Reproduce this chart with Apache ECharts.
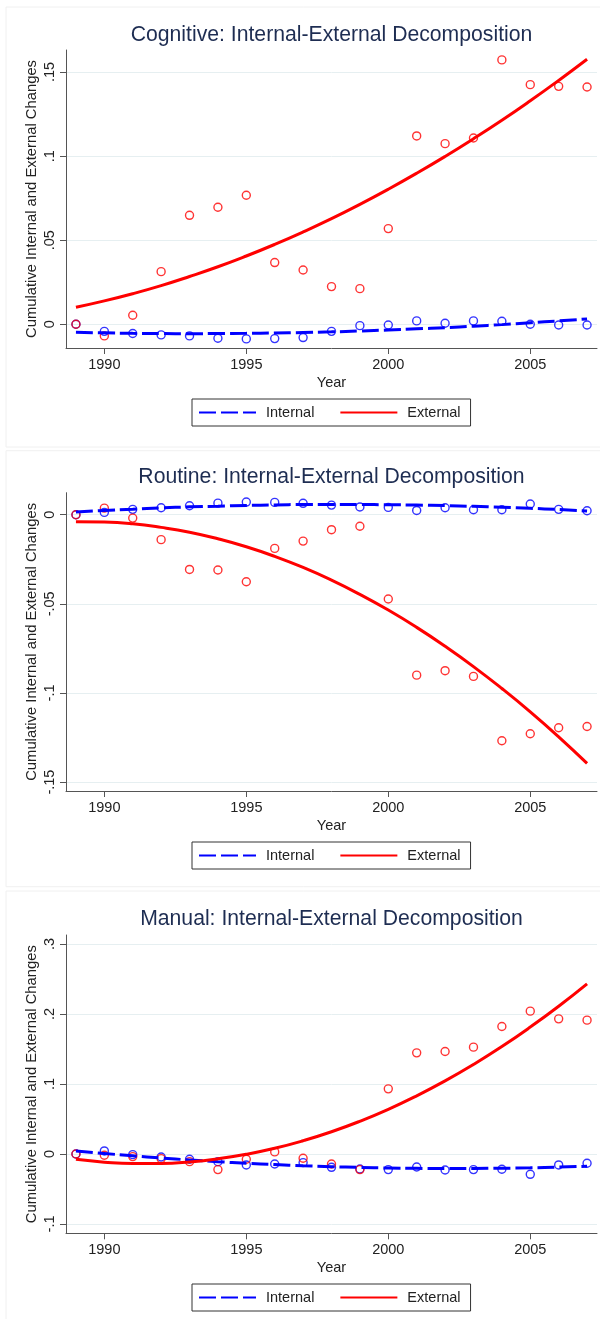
<!DOCTYPE html>
<html><head><meta charset="utf-8">
<script src="https://cdn.jsdelivr.net/npm/echarts@6/dist/echarts.min.js"></script>
<style>html,body{margin:0;padding:0;background:#fff}#c{width:600px;height:1319px}</style>
</head><body><div id="c"></div>
<script>
const years = [1989,1990,1991,1992,1993,1994,1995,1996,1997,1998,1999,2000,2001,2002,2003,2004,2005,2006,2007];
const xTicks = [1990,1995,2000,2005];

const titles = ['Cognitive: Internal-External Decomposition','Routine: Internal-External Decomposition','Manual: Internal-External Decomposition'];
const legendNames = ['Internal','External'];
const yTitle = 'Cumulative Internal and External Changes';
const xTitle = 'Year';

const cogInternal = [0,-0.0042,-0.0055,-0.0063,-0.0069,-0.0083,-0.0087,-0.0085,-0.0079,-0.0042,-0.0008,-0.0004,0.0020,0.0006,0.0020,0.0018,0.0000,-0.0004,-0.0004];
const cogExternal = [0,-0.0069,0.0054,0.0313,0.0648,0.0696,0.0767,0.0367,0.0323,0.0224,0.0212,0.0569,0.1120,0.1074,0.1108,0.1572,0.1425,0.1415,0.1411];
const cogInternalFit = [-0.0048,-0.0051,-0.0054,-0.0055,-0.0056,-0.0055,-0.0054,-0.0052,-0.0049,-0.0045,-0.0040,-0.0034,-0.0027,-0.0020,-0.0011,-0.0002,0.0009,0.0020,0.0032];
const cogExternalFit = [0.0101,0.0139,0.0182,0.0230,0.0284,0.0342,0.0406,0.0475,0.0549,0.0628,0.0713,0.0803,0.0898,0.0998,0.1103,0.1213,0.1329,0.1450,0.1576];
const cogTicks = [0,0.05,0.1,0.15];
const cogTickLabels = ['0','.05','.1','.15'];

const rouInternal = [0,0.0013,0.0030,0.0039,0.0050,0.0065,0.0071,0.0069,0.0064,0.0054,0.0043,0.0041,0.0024,0.0039,0.0028,0.0028,0.0060,0.0030,0.0022];
const rouExternal = [0,0.0037,-0.0019,-0.0140,-0.0307,-0.0310,-0.0376,-0.0189,-0.0148,-0.0084,-0.0065,-0.0473,-0.0900,-0.0875,-0.0907,-0.1268,-0.1229,-0.1195,-0.1188];
const rouInternalFit = [0.0015,0.0024,0.0031,0.0038,0.0044,0.0048,0.0052,0.0055,0.0057,0.0057,0.0057,0.0056,0.0054,0.0051,0.0047,0.0042,0.0036,0.0029,0.0021];
const rouExternalFit = [-0.0039,-0.0041,-0.0051,-0.0071,-0.0098,-0.0135,-0.0180,-0.0234,-0.0296,-0.0367,-0.0447,-0.0535,-0.0632,-0.0738,-0.0852,-0.0975,-0.1106,-0.1246,-0.1395];
const rouTicks = [-0.15,-0.1,-0.05,0];
const rouTickLabels = ['-.15','-.1','-.05','0'];

const manInternal = [0,0.0043,-0.0010,-0.0043,-0.0076,-0.0110,-0.0157,-0.0143,-0.0124,-0.0191,-0.0215,-0.0224,-0.0186,-0.0229,-0.0224,-0.0219,-0.0291,-0.0157,-0.0133];
const manExternal = [0,-0.0019,-0.0038,-0.0067,-0.0110,-0.0224,-0.0076,0.0029,-0.0062,-0.0143,-0.0224,0.0930,0.1445,0.1464,0.1526,0.1821,0.2041,0.1931,0.1912];
const manInternalFit = [0.0043,0.0007,-0.0027,-0.0058,-0.0086,-0.0111,-0.0133,-0.0152,-0.0169,-0.0182,-0.0193,-0.0201,-0.0206,-0.0208,-0.0207,-0.0204,-0.0198,-0.0188,-0.0176];
const manExternalFit = [-0.0076,-0.0117,-0.0137,-0.0136,-0.0114,-0.0070,-0.0005,0.0081,0.0189,0.0317,0.0467,0.0638,0.0831,0.1044,0.1279,0.1535,0.1813,0.2111,0.2431];
const manTicks = [-0.1,0,0.1,0.2,0.3];
const manTickLabels = ['-.1','0','.1','.2','.3'];

const FONT = "'Liberation Sans', Arial, sans-serif";
const BLUE = '#0000ff', RED = '#ff0000', AXIS = '#555555', TXT = '#222222';

const panels = [
  {top:50, height:298, ymin:-0.0141, ymax:0.1631, ticks:cogTicks, labels:cogTickLabels,
   intl:cogInternal, extl:cogExternal, intlFit:cogInternalFit, extlFit:cogExternalFit, titleTop:24.5, legendTop:399, frameTop:7, frameH:440},
  {top:492.7, height:298.3, ymin:-0.155, ymax:0.01235, ticks:rouTicks, labels:rouTickLabels,
   intl:rouInternal, extl:rouExternal, intlFit:rouInternalFit, extlFit:rouExternalFit, titleTop:466.5, legendTop:842, frameTop:450.7, frameH:436},
  {top:935, height:298.3, ymin:-0.1134, ymax:0.3129, ticks:manTicks, labels:manTickLabels,
   intl:manInternal, extl:manExternal, intlFit:manInternalFit, extlFit:manExternalFit, titleTop:908.5, legendTop:1284, frameTop:891, frameH:440}
];

const pairs = arr => years.map((y,k)=>[y, arr[k]]);

const option = {
  animation:false,
  backgroundColor:'#ffffff',
  title:[], grid:[], xAxis:[], yAxis:[], legend:[], series:[],
  graphic: panels.map(p => ({type:'rect', shape:{x:6, y:p.frameTop, width:600, height:p.frameH}, style:{fill:'none', stroke:'#f0f0f0', lineWidth:1}, silent:true, z:-1}))
};

panels.forEach((p,i) => {
  option.title.push({text:titles[i], left:331.5, textAlign:'center', top:p.titleTop, padding:0,
    textStyle:{fontSize:21.2, fontWeight:'normal', color:'#1e2d52', fontFamily:FONT}});
  option.grid.push({left:66, top:p.top, width:531, height:p.height, containLabel:false});
  option.xAxis.push({type:'value', gridIndex:i, min:1988.65, max:2007.35,
    axisLine:{onZero:false, lineStyle:{color:AXIS, width:1}},
    axisTick:{customValues:xTicks, length:6, lineStyle:{color:AXIS}},
    axisLabel:{customValues:xTicks, fontSize:14.5, color:TXT, margin:9, fontFamily:FONT, formatter: v => String(Math.round(v))},
    splitLine:{show:false},
    name:xTitle, nameLocation:'middle', nameGap:27.5, nameMoveOverlap:false,
    nameTextStyle:{fontSize:14.5, color:TXT, fontFamily:FONT}});
  const lab = p.labels, tk = p.ticks;
  option.yAxis.push({type:'value', gridIndex:i, min:p.ymin, max:p.ymax,
    axisLine:{show:true, onZero:false, lineStyle:{color:AXIS, width:1}},
    axisTick:{show:true, customValues:tk, length:6, lineStyle:{color:AXIS}},
    axisLabel:{customValues:tk, rotate:90, fontSize:14.5, color:TXT, margin:9, fontFamily:FONT,
      formatter: v => { const k = tk.findIndex(t => Math.abs(t - v) < 1e-9); return k >= 0 ? lab[k] : ''; }},
    splitLine:{show:true, lineStyle:{color:'#e6eff1', width:1}},
    name:yTitle, nameLocation:'middle', nameRotate:90, nameGap:27, nameMoveOverlap:false,
    nameTextStyle:{fontSize:14.8, color:TXT, fontFamily:FONT}});
  option.legend.push({left:192, top:p.legendTop, orient:'horizontal', padding:[6,10,6,6],
    itemWidth:57, itemHeight:14, itemGap:25, borderColor:'#333333', borderWidth:1,
    itemStyle:{opacity:0, borderWidth:0},
    textStyle:{fontSize:14.5, color:TXT, fontFamily:FONT, padding:[0,0,0,5]},
    data:legendNames.slice(), selectedMode:false});
  option.series.push(
    {name:'Internal points', type:'scatter', xAxisIndex:i, yAxisIndex:i, data:pairs(p.intl), symbol:'circle', symbolSize:8,
     itemStyle:{color:'rgba(0,0,0,0)', borderColor:BLUE, borderWidth:1.4}, z:2},
    {name:'External points', type:'scatter', xAxisIndex:i, yAxisIndex:i, data:pairs(p.extl), symbol:'circle', symbolSize:8,
     itemStyle:{color:'rgba(0,0,0,0)', borderColor:RED, borderWidth:1.4}, z:2},
    {name:legendNames[0], type:'line', xAxisIndex:i, yAxisIndex:i, data:pairs(p.intlFit), symbol:'none', smooth:true,
     lineStyle:{color:BLUE, width:3, type:[17,5]}, itemStyle:{color:BLUE}, z:3},
    {name:legendNames[1], type:'line', xAxisIndex:i, yAxisIndex:i, data:pairs(p.extlFit), symbol:'none', smooth:true,
     lineStyle:{color:RED, width:3, type:'solid'}, itemStyle:{color:RED}, z:4}
  );
});

const chart = echarts.init(document.getElementById('c'), null, {renderer:'canvas'});
chart.setOption(option);
</script>
</body></html>
